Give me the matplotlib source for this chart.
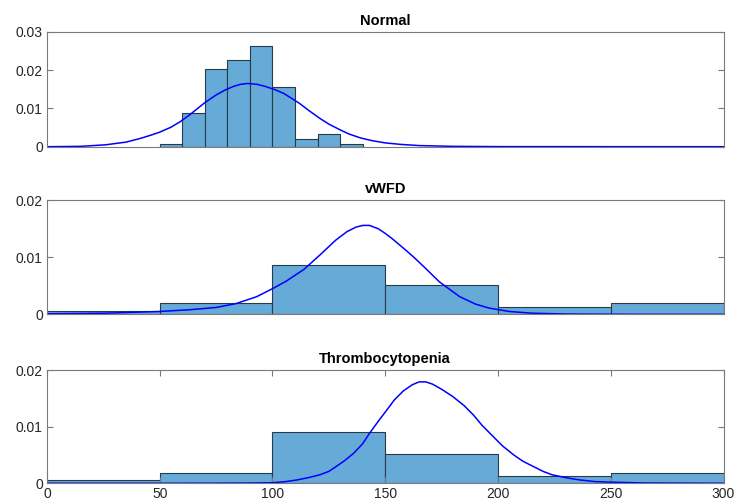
import matplotlib
matplotlib.use('Agg')
import matplotlib.pyplot as plt
import numpy as np

plt.rcParams['font.family'] = ['Liberation Sans', 'DejaVu Sans']

# histogram bins (left edges) and normalised heights
normal_edges = [50, 60, 70, 80, 90, 100, 110, 120, 130, 140]
normal_hist = [0.0006, 0.0088, 0.0202, 0.0226, 0.0264, 0.0157, 0.0019, 0.0032, 0.0006]

wide_edges = [0, 50, 100, 150, 200, 250, 300]
vwfd_hist = [0.0005, 0.0019, 0.0086, 0.0051, 0.0012, 0.0019]
thrombo_hist = [0.0005, 0.00175, 0.0090, 0.0051, 0.0012, 0.00175]

# density curves
normal_x = [0, 15, 26, 35, 41, 46, 50, 55, 59, 63, 66, 70, 75, 79, 83, 86, 89, 93, 97, 101,
            105, 108, 112, 116, 121, 125, 130, 134, 139, 144, 150, 157, 165, 180, 200, 300]
normal_y = [0.0, 0.0001, 0.0005, 0.0012, 0.0021, 0.0030, 0.0038, 0.0051, 0.0065, 0.0082,
            0.0096, 0.0115, 0.0135, 0.0148, 0.0158, 0.0163, 0.0165, 0.0163, 0.0157, 0.0149,
            0.0139, 0.0128, 0.0113, 0.0095, 0.0074, 0.0059, 0.0044, 0.0033, 0.0023, 0.0016,
            0.0010, 0.0006, 0.0003, 0.0001, 0.00003, 0.0]

vwfd_x = [0, 26, 50, 63, 75, 84, 93, 100, 106, 114, 121, 128, 133, 137, 140, 143, 147, 150,
          153, 159, 163, 167, 174, 183, 190, 196, 205, 215, 230, 260, 300]
vwfd_y = [0.0001, 0.0002, 0.0005, 0.0008, 0.0012, 0.0019, 0.0031, 0.0045, 0.0058, 0.0079,
          0.0104, 0.0130, 0.0145, 0.0153, 0.0156, 0.0156, 0.0150, 0.0142, 0.0133, 0.0113,
          0.0099, 0.0084, 0.0057, 0.0031, 0.0018, 0.0011, 0.0005, 0.0002, 0.00005, 0.0, 0.0]

thrombo_x = [0, 60, 80, 92, 100, 106, 111, 116, 121, 125, 128, 132, 136, 140, 143, 147, 151,
             154, 158, 162, 165, 168, 171, 175, 180, 185, 189, 193, 198, 202, 207, 211, 216,
             220, 224, 230, 236, 243, 250, 265, 300]
thrombo_y = [0.0, 0.0, 0.00002, 0.00005, 0.0001, 0.0003, 0.0006, 0.0010, 0.0015, 0.0021,
             0.0029, 0.0040, 0.0053, 0.0070, 0.0088, 0.0110, 0.0131, 0.0147, 0.0163, 0.0174,
             0.0179, 0.0179, 0.0175, 0.0166, 0.0153, 0.0137, 0.0121, 0.0102, 0.0082, 0.0066,
             0.0050, 0.0039, 0.0029, 0.0021, 0.0015, 0.0010, 0.0006, 0.0003, 0.0002, 0.00005, 0.0]

titles = ['Normal', 'vWFD', 'Thrombocytopenia']
y_ticks = [[0, 0.01, 0.02, 0.03], [0, 0.01, 0.02], [0, 0.01, 0.02]]
y_tick_labels = [['0', '0.01', '0.02', '0.03'], ['0', '0.01', '0.02'], ['0', '0.01', '0.02']]
x_ticks = [0, 50, 100, 150, 200, 250, 300]

bar_color = '#66aad7'
edge_color = '#2b3a47'
axis_color = '#7a7a7a'

fig = plt.figure(figsize=(7.34, 5.03), dpi=100)
positions = [[0.064, 0.7083, 0.9217, 0.2286],
             [0.064, 0.3751, 0.9217, 0.2266],
             [0.064, 0.0392, 0.9217, 0.2252]]

panels = [
    (normal_edges, normal_hist, normal_x, normal_y),
    (wide_edges, vwfd_hist, vwfd_x, vwfd_y),
    (wide_edges, thrombo_hist, thrombo_x, thrombo_y),
]

for i, (edges, hist, cx, cy) in enumerate(panels):
    ax = fig.add_axes(positions[i])
    edges = np.array(edges)
    ax.bar(edges[:-1], hist, width=np.diff(edges), align='edge',
           color=bar_color, edgecolor=edge_color, linewidth=0.8)
    ax.plot(cx, cy, color='#0000ff', linewidth=1.1)

    ax.set_xlim(0, 300)
    ax.set_ylim(y_ticks[i][0], y_ticks[i][-1])
    ax.set_yticks(y_ticks[i])
    ax.set_yticklabels(y_tick_labels[i])
    if i < 2:
        ax.set_xticks([])
    else:
        ax.set_xticks(x_ticks)
        ax.set_xticklabels([str(t) for t in x_ticks])

    ax.tick_params(direction='in', length=4, width=0.8, color=axis_color,
                   labelsize=10, labelcolor='#262626', top=True, right=True, pad=3)
    for s in ax.spines.values():
        s.set_color(axis_color)
        s.set_linewidth(0.8)
    ax.set_title(titles[i], fontsize=10.5, fontweight='bold', pad=5)

plt.savefig('out.png', dpi=100)
plt.close()
